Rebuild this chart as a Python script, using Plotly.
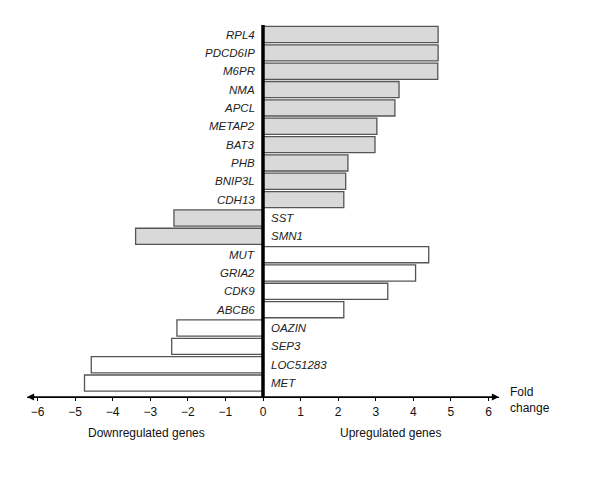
import plotly.graph_objects as go

genes = ["RPL4", "PDCD6IP", "M6PR", "NMA", "APCL", "METAP2", "BAT3", "PHB",
         "BNIP3L", "CDH13", "SST", "SMN1", "MUT", "GRIA2", "CDK9", "ABCB6",
         "OAZIN", "SEP3", "LOC51283", "MET"]
fold_change = [4.66, 4.66, 4.65, 3.62, 3.51, 3.03, 2.98, 2.26,
               2.20, 2.15, -2.37, -3.39, 4.41, 4.06, 3.32, 2.15,
               -2.29, -2.43, -4.57, -4.75]
group = ["grey"] * 12 + ["white"] * 8
tick_vals = [-6, -5, -4, -3, -2, -1, 0, 1, 2, 3, 4, 5, 6]

fill = {"grey": "#d9d9d9", "white": "#ffffff"}
colors = [fill[g] for g in group]

fig = go.Figure()
fig.add_trace(go.Bar(
    x=fold_change, y=genes, orientation="h",
    marker=dict(color=colors, line=dict(color="#555555", width=1.3)),
    width=0.88, showlegend=False, hoverinfo="x+y",
))

lab_font = dict(family="Liberation Sans", size=11.5, color="#222", style="italic")
for g, v in zip(genes, fold_change):
    if v >= 0:
        fig.add_annotation(x=0, y=g, text=g, showarrow=False, xanchor="right",
                           xshift=-6, font=lab_font)
    else:
        fig.add_annotation(x=0, y=g, text=g, showarrow=False, xanchor="left",
                           xshift=6, font=lab_font)

# arrow heads on x axis
for end in (6.28, -6.28):
    fig.add_annotation(x=end, y=0, xref="x", yref="paper", ax=0, ay=0,
                       axref="x", ayref="pixel", showarrow=True, arrowhead=2,
                       arrowsize=1.1, arrowwidth=1.3, arrowcolor="black", text="")

# thick central vertical line
fig.add_shape(type="line", x0=0, x1=0, y0=0, y1=1, xref="x", yref="paper",
              line=dict(color="black", width=3.5))

txt_font = dict(family="Liberation Sans", size=12, color="#111")
fig.add_annotation(x=-3.1, y=0, xref="x", yref="paper", yshift=-36, yanchor="middle",
                   text="Downregulated genes", showarrow=False, font=txt_font)
fig.add_annotation(x=3.4, y=0, xref="x", yref="paper", yshift=-36, yanchor="middle",
                   text="Upregulated genes", showarrow=False, font=txt_font)
fig.add_annotation(x=6.28, y=0, xref="x", yref="paper", xshift=9, yshift=-3, yanchor="middle",
                   text="Fold<br>change", showarrow=False, xanchor="left", align="left",
                   font=txt_font)

fig.update_layout(
    width=600, height=483,
    margin=dict(l=19, r=109, t=17, b=94),
    plot_bgcolor="white", paper_bgcolor="white",
    xaxis=dict(range=[-6.28, 6.28], tickvals=tick_vals, showgrid=False, zeroline=False,
               showline=True, linecolor="black", linewidth=1.3, ticks="outside",
               ticklen=3, tickcolor="black", tickwidth=1,
               tickfont=dict(family="Liberation Sans", size=12, color="#111")),
    yaxis=dict(range=[19.76, -0.52], showticklabels=False, showgrid=False,
               zeroline=False, showline=False, ticks=""),
    bargap=0.1,
)

fig.write_html("out.html")
